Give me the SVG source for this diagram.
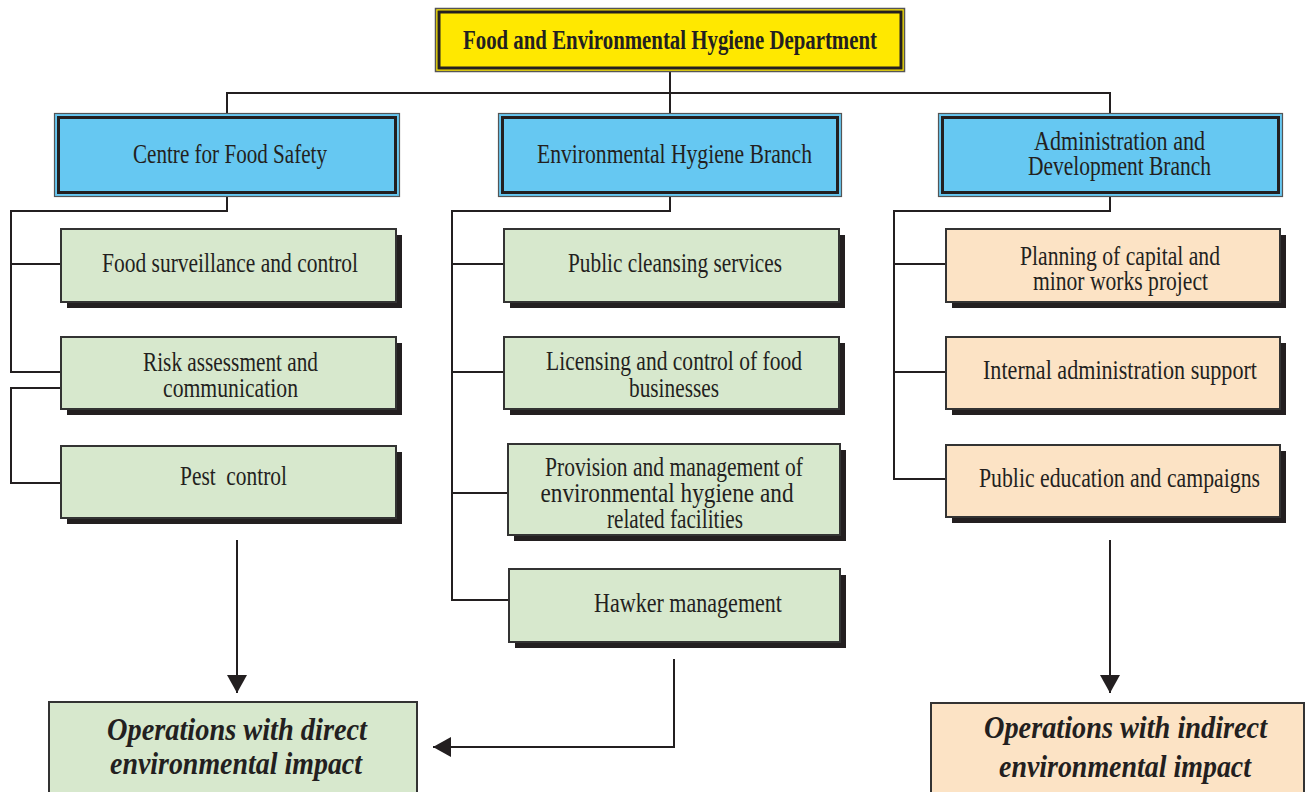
<svg xmlns="http://www.w3.org/2000/svg" width="1305" height="792" viewBox="0 0 1305 792">
<style>
.conn{stroke:#231F20;stroke-width:2;fill:none}
.shadow{fill:#231F20}
.green{fill:#D7E8CD;stroke:#333;stroke-width:2}
.peach{fill:#FCE3C5;stroke:#333;stroke-width:2}
.bout{fill:#66C8F2;stroke:#555;stroke-width:1.2}
.bin{fill:none;stroke:#231F20;stroke-width:3}
.yout{fill:#FFE800;stroke:#555;stroke-width:1.5}
.t{font-family:"Liberation Serif",serif;font-size:27px;fill:#231F20;text-anchor:middle}
.top{font-family:"Liberation Serif",serif;font-size:28px;font-weight:bold;fill:#231F20;text-anchor:middle}
.big{font-family:"Liberation Serif",serif;font-size:31px;font-weight:bold;font-style:italic;fill:#231F20;text-anchor:middle}
</style>
<defs>
<marker id="ah" markerUnits="userSpaceOnUse" markerWidth="19" markerHeight="21" refX="18" refY="10" orient="auto">
<path d="M0,0 L18,10 L0,20 Z" fill="#231F20"/>
</marker>
</defs>
<rect width="1305" height="792" fill="#fff"/>

<g id="connectors">
<path class="conn" d="M670 72 V113"/>
<path class="conn" d="M227 113 V93 H1110 V113"/>
<path class="conn" d="M227 197 V211 H11 V372 H61 M11 264 H61"/>
<path class="conn" d="M61 388 H11 V483 H61"/>
<path class="conn" d="M670 197 V211 H452 V600 H509 M452 264 H504 M452 372 H504 M452 493 H508"/>
<path class="conn" d="M1110 197 V211 H894 V479 H946 M894 264 H946 M894 372 H946"/>
<path class="conn" d="M237 540 V693" marker-end="url(#ah)"/>
<path class="conn" d="M674 659 V747 H433" marker-end="url(#ah)"/>
<path class="conn" d="M1110 540 V693" marker-end="url(#ah)"/>
</g>

<g id="fehd">
<rect class="yout" x="435.5" y="8.5" width="469" height="63"/>
<rect class="bin" x="439" y="12" width="462" height="56"/>
<text class="top" x="670" y="49" textLength="414" lengthAdjust="spacingAndGlyphs">Food and Environmental Hygiene Department</text>
</g>

<g id="cfs">
<rect class="bout" x="54.5" y="113.5" width="345" height="83"/>
<rect class="bin" x="58.5" y="117.5" width="337" height="75"/>
<text class="t" x="230" y="163" textLength="194" lengthAdjust="spacingAndGlyphs">Centre for Food Safety</text>
</g>

<g id="ehb">
<rect class="bout" x="498.5" y="113.5" width="343" height="83"/>
<rect class="bin" x="502.5" y="117.5" width="335" height="75"/>
<text class="t" x="674.5" y="163" textLength="275" lengthAdjust="spacingAndGlyphs">Environmental Hygiene Branch</text>
</g>

<g id="adb">
<rect class="bout" x="938.5" y="113.5" width="344" height="83"/>
<rect class="bin" x="942.5" y="117.5" width="336" height="75"/>
<text class="t" x="1119.5" y="150" textLength="171" lengthAdjust="spacingAndGlyphs">Administration and</text>
<text class="t" x="1119.5" y="175" textLength="183" lengthAdjust="spacingAndGlyphs">Development Branch</text>
</g>

<g id="food-surveillance">
<rect class="shadow" x="67" y="235" width="335" height="73"/>
<rect class="green" x="61" y="229" width="335" height="73"/>
<text class="t" x="230" y="272" textLength="256" lengthAdjust="spacingAndGlyphs">Food surveillance and control</text>
</g>

<g id="risk">
<rect class="shadow" x="67" y="343" width="335" height="72"/>
<rect class="green" x="61" y="337" width="335" height="72"/>
<text class="t" x="230.5" y="371" textLength="175" lengthAdjust="spacingAndGlyphs">Risk assessment and</text>
<text class="t" x="230.5" y="397" textLength="135" lengthAdjust="spacingAndGlyphs">communication</text>
</g>

<g id="pest">
<rect class="shadow" x="67" y="452" width="335" height="72"/>
<rect class="green" x="61" y="446" width="335" height="72"/>
<text class="t" x="233.5" y="485" textLength="107" lengthAdjust="spacingAndGlyphs" xml:space="preserve">Pest  control</text>
</g>

<g id="cleansing">
<rect class="shadow" x="510" y="235" width="335" height="73"/>
<rect class="green" x="504" y="229" width="335" height="73"/>
<text class="t" x="675" y="272" textLength="214" lengthAdjust="spacingAndGlyphs">Public cleansing services</text>
</g>

<g id="licensing">
<rect class="shadow" x="510" y="343" width="335" height="72"/>
<rect class="green" x="504" y="337" width="335" height="72"/>
<text class="t" x="674" y="370" textLength="256" lengthAdjust="spacingAndGlyphs">Licensing and control of food</text>
<text class="t" x="674" y="397" textLength="90" lengthAdjust="spacingAndGlyphs">businesses</text>
</g>

<g id="provision">
<rect class="shadow" x="514" y="450" width="332" height="91"/>
<rect class="green" x="508" y="444" width="332" height="91"/>
<text class="t" x="674" y="476" textLength="258" lengthAdjust="spacingAndGlyphs">Provision and management of</text>
<text class="t" x="667" y="502" textLength="253" lengthAdjust="spacingAndGlyphs">environmental hygiene and</text>
<text class="t" x="675" y="528" textLength="136" lengthAdjust="spacingAndGlyphs">related facilities</text>
</g>

<g id="hawker">
<rect class="shadow" x="515" y="575" width="331" height="73"/>
<rect class="green" x="509" y="569" width="331" height="73"/>
<text class="t" x="688" y="612" textLength="188" lengthAdjust="spacingAndGlyphs">Hawker management</text>
</g>

<g id="planning">
<rect class="shadow" x="952" y="235" width="334" height="73"/>
<rect class="peach" x="946" y="229" width="334" height="73"/>
<text class="t" x="1120" y="265" textLength="200" lengthAdjust="spacingAndGlyphs">Planning of capital and</text>
<text class="t" x="1120.5" y="290" textLength="175" lengthAdjust="spacingAndGlyphs">minor works project</text>
</g>

<g id="internal">
<rect class="shadow" x="952" y="343" width="334" height="72"/>
<rect class="peach" x="946" y="337" width="334" height="72"/>
<text class="t" x="1120" y="379" textLength="274" lengthAdjust="spacingAndGlyphs">Internal administration support</text>
</g>

<g id="education">
<rect class="shadow" x="952" y="451" width="334" height="72"/>
<rect class="peach" x="946" y="445" width="334" height="72"/>
<text class="t" x="1119.5" y="487" textLength="281" lengthAdjust="spacingAndGlyphs">Public education and campaigns</text>
</g>

<g id="direct">
<rect class="green" x="49" y="702" width="368" height="100"/>
<text class="big" x="237" y="740" textLength="260" lengthAdjust="spacingAndGlyphs">Operations with direct</text>
<text class="big" x="236" y="774" textLength="252" lengthAdjust="spacingAndGlyphs">environmental impact</text>
</g>

<g id="indirect">
<rect class="peach" x="931" y="703" width="373" height="100"/>
<text class="big" x="1125.5" y="738" textLength="283" lengthAdjust="spacingAndGlyphs">Operations with indirect</text>
<text class="big" x="1125" y="777" textLength="252" lengthAdjust="spacingAndGlyphs">environmental impact</text>
</g>
</svg>
